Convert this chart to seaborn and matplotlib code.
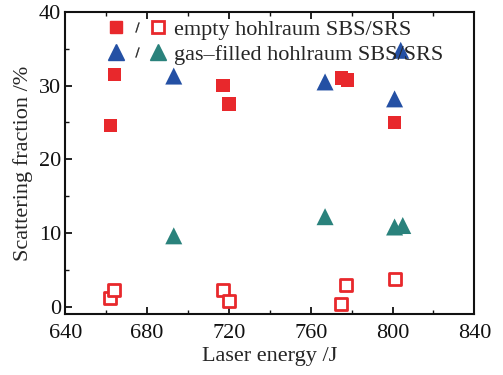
import numpy as np
import pandas as pd
import seaborn as sns
import matplotlib.pyplot as plt
from matplotlib.lines import Line2D
from matplotlib.legend_handler import HandlerTuple
from matplotlib.ticker import MultipleLocator

# empty hohlraum: SBS (filled) / SRS (open)
empty_sbs_x = [662, 664, 717, 720, 775, 778, 801]
empty_sbs_y = [24.6, 31.5, 30.0, 27.5, 31.0, 30.8, 25.0]
empty_srs_x = [662, 664, 717, 720, 775, 777, 801]
empty_srs_y = [1.1, 2.3, 2.3, 0.7, 0.4, 2.9, 3.8]

# gas-filled hohlraum: SBS (blue) / SRS (teal)
gas_sbs_x = [693, 767, 801, 804]
gas_sbs_y = [31.3, 30.5, 28.2, 34.8]
gas_srs_x = [693, 767, 801, 805]
gas_srs_y = [9.6, 12.2, 10.8, 11.0]

red = "#e8282c"
blue = "#2450a4"
teal = "#2a827c"

sns.set_style("ticks")
plt.rcParams["font.family"] = ["Liberation Serif", "DejaVu Serif"]
plt.rcParams["mathtext.fontset"] = "dejavuserif"

fig, ax = plt.subplots(figsize=(5.03, 3.75), dpi=100)

sns.scatterplot(x=empty_sbs_x, y=empty_sbs_y, marker="s", s=95, color=red,
                edgecolor="none", ax=ax)
sns.scatterplot(x=empty_srs_x, y=empty_srs_y, marker="s", s=80, facecolor="white",
                edgecolor=red, linewidth=2, ax=ax)
sns.scatterplot(x=gas_sbs_x, y=gas_sbs_y, marker="^", s=150, color=blue,
                edgecolor="none", ax=ax)
sns.scatterplot(x=gas_srs_x, y=gas_srs_y, marker="^", s=150, color=teal,
                edgecolor="none", ax=ax)

ax.set_xlim(640, 840)
ax.set_ylim(-1, 40)
ax.xaxis.set_major_locator(MultipleLocator(40))
ax.xaxis.set_minor_locator(MultipleLocator(20))
ax.yaxis.set_major_locator(MultipleLocator(10))
ax.yaxis.set_minor_locator(MultipleLocator(5))
ax.tick_params(which="both", direction="in", top=True, right=False, labelsize=16,
               colors="#111111")
ax.tick_params(which="major", length=5, width=1.3)
ax.tick_params(axis="x", which="major", pad=7)
ax.tick_params(axis="y", which="major", pad=3)
ax.tick_params(which="minor", length=3, width=1.0)
for sp in ax.spines.values():
    sp.set_linewidth(1.5)
    sp.set_color("#111111")
ax.set_xlabel("Laser energy /J", fontsize=16, labelpad=3)
ax.set_ylabel("Scattering fraction /%", fontsize=16, labelpad=4)

sq_f = Line2D([], [], marker="s", ls="", color=red, markersize=9)
sq_o = Line2D([], [], marker="s", ls="", markerfacecolor="white", markeredgecolor=red,
              markeredgewidth=2, markersize=8)
tri_b = Line2D([], [], marker="^", ls="", color=blue, markersize=12)
tri_t = Line2D([], [], marker="^", ls="", color=teal, markersize=12)
slash = Line2D([], [], marker="$/$", ls="", color="#222222", markersize=7,
               markeredgewidth=0.3)

ax.legend([(sq_f, slash, sq_o), (tri_b, slash, tri_t)],
          ["empty hohlraum SBS/SRS", "gas\u2013filled hohlraum SBS/SRS"],
          handler_map={tuple: HandlerTuple(ndivide=None, pad=0.2)},
          loc="upper left", bbox_to_anchor=(0.075, 1.015), frameon=False,
          fontsize=16, handlelength=2.6, handletextpad=0.35, labelspacing=0.2,
          borderaxespad=0.15)

plt.subplots_adjust(left=0.13, right=0.943, top=0.968, bottom=0.163)
fig.savefig("out.png", dpi=100)
